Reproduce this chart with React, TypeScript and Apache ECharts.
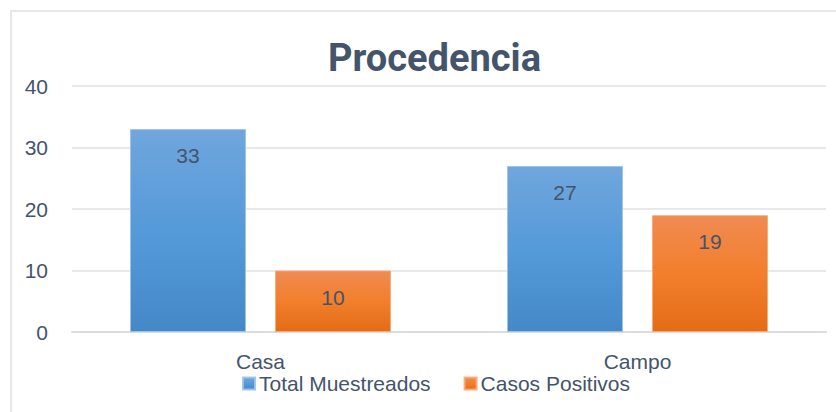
import React, { useEffect, useRef } from "react";
import * as echarts from "echarts";

const categories = ["Casa", "Campo"];
const totalMuestreados = [33, 27];
const casosPositivos = [10, 19];
const seriesNames = ["Total Muestreados", "Casos Positivos"];
const yTicks = { min: 0, max: 40, interval: 10 };
const titleText = "Procedencia";

const FONT = "Liberation Sans";
const TEXT = "#44546A";

export default function App() {
  const ref = useRef<HTMLDivElement>(null);
  useEffect(() => {
    if (!ref.current) return;
    const chart = echarts.init(ref.current, undefined, { renderer: "svg" });
    const blue = new echarts.graphic.LinearGradient(0, 0, 0, 1, [
      { offset: 0, color: "#70A6DD" },
      { offset: 0.5, color: "#559AD9" },
      { offset: 1, color: "#4488C8" },
    ]);
    const orange = new echarts.graphic.LinearGradient(0, 0, 0, 1, [
      { offset: 0, color: "#F08B52" },
      { offset: 0.5, color: "#F27F2C" },
      { offset: 1, color: "#E46C17" },
    ]);
    const label = {
      show: true,
      position: "insideTop" as const,
      distance: 16,
      color: TEXT,
      fontFamily: FONT,
      fontSize: 21,
    };
    chart.setOption({
      animation: false,
      backgroundColor: "#ffffff",
      textStyle: { fontFamily: FONT },
      graphic: [
        {
          type: "rect",
          shape: { x: 11, y: 11, width: 840, height: 420 },
          style: { fill: "none", stroke: "#DCE1E8", lineWidth: 1.5 },
          silent: true,
        },
      ],
      title: {
        text: titleText,
        left: 323,
        top: 34,
        textStyle: {
          fontFamily: "Roboto",
          fontWeight: "bold",
          fontSize: 38,
          color: TEXT,
        },
      },
      legend: {
        left: 237,
        top: 368,
        itemWidth: 12,
        itemHeight: 12,
        itemGap: 33,
        icon: "rect",
        textStyle: { fontFamily: FONT, fontSize: 21, color: TEXT, padding: [0, 0, 0, -1] },
        data: seriesNames,
      },
      grid: { left: 72, right: 10, top: 86, bottom: 80, containLabel: false },
      xAxis: {
        type: "category",
        data: categories,
        axisLine: { show: true, lineStyle: { color: "#D9DDE3", width: 2 } },
        axisTick: { show: false },
        axisLabel: { color: TEXT, fontFamily: FONT, fontSize: 21, margin: 19 },
      },
      yAxis: {
        type: "value",
        min: yTicks.min,
        max: yTicks.max,
        interval: yTicks.interval,
        axisLine: { show: false },
        axisTick: { show: false },
        axisLabel: { color: TEXT, fontFamily: FONT, fontSize: 21, margin: 24 },
        splitLine: { lineStyle: { color: "#DFE2E7", width: 1.5 } },
      },
      series: [
        {
          name: seriesNames[0],
          type: "bar",
          data: totalMuestreados,
          barWidth: 116,
          barGap: "25%",
          itemStyle: { color: blue, borderColor: "rgba(157,195,230,0.9)", borderWidth: 1 },
          label,
        },
        {
          name: seriesNames[1],
          type: "bar",
          data: casosPositivos,
          barWidth: 116,
          itemStyle: { color: orange, borderColor: "rgba(247,170,120,0.9)", borderWidth: 1 },
          label,
        },
      ],
    });
    return () => chart.dispose();
  }, []);
  return (
    <div
      ref={ref}
      style={{ position: "fixed", left: 0, top: 0, width: 836, height: 412 }}
    />
  );
}
